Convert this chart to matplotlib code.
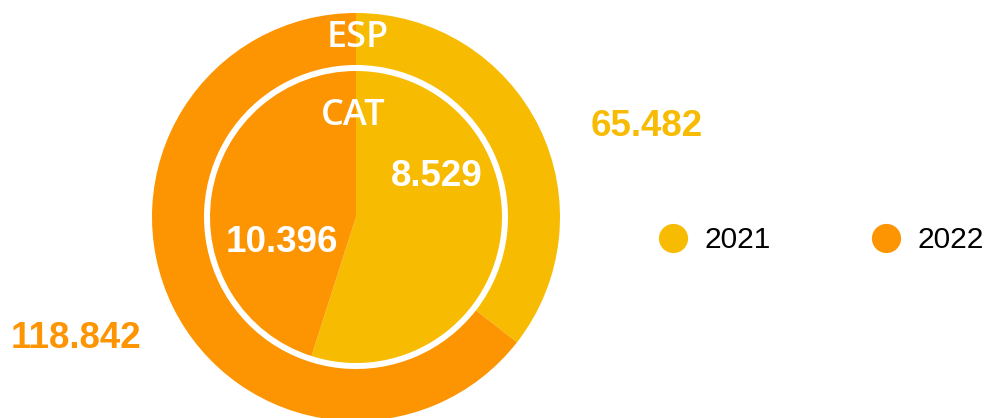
import matplotlib
matplotlib.use("Agg")
import matplotlib.pyplot as plt
from matplotlib.lines import Line2D

# ---- data ----
series = ["2021", "2022"]
colors = ["#F7BB02", "#FD9401"]
outer_name = "ESP"
outer_values = [65.482, 118.842]
outer_labels = ["65.482", "118.842"]
inner_name = "CAT"
inner_values = [10.396, 8.529]      # wedge sizes as drawn
inner_labels = ["8.529", "10.396"]  # texts as shown in the reference

W, H = 992, 418
fig = plt.figure(figsize=(W / 100, H / 100), dpi=100)
ax = fig.add_axes([0, 0, 1, 1])

cx, cy = 356, H - 217
R_out, R_gap, R_in = 204, 152, 146

ax.pie(outer_values, colors=colors, radius=R_out, center=(cx, cy),
       startangle=90, counterclock=False,
       wedgeprops=dict(width=R_out - R_gap, linewidth=0))
ax.pie(inner_values, colors=colors, radius=R_in, center=(cx, cy),
       startangle=90, counterclock=False,
       wedgeprops=dict(linewidth=0))

ax.set_xlim(0, W)
ax.set_ylim(0, H)
ax.set_aspect("equal")
ax.axis("off")

lab_font = dict(family="Liberation Sans", weight="bold", fontsize=26.5)
ax.text(437, H - 177, inner_labels[0], color="white", ha="center", va="center", **lab_font)
ax.text(282, H - 243, inner_labels[1], color="white", ha="center", va="center", **lab_font)
ax.text(647, H - 127, outer_labels[0], color=colors[0], ha="center", va="center", **lab_font)
ax.text(76, H - 338, outer_labels[1], color=colors[1], ha="center", va="center", **lab_font)

name_font = dict(family="Open Sans", weight="semibold", fontsize=26)
ax.text(358, H - 38, outer_name, color="white", ha="center", va="center", **name_font)
ax.text(353, H - 116, inner_name, color="white", ha="center", va="center", **name_font)

handles = [Line2D([], [], linestyle="none", marker="o", markersize=21,
                  markerfacecolor=c, markeredgewidth=0) for c in colors]
leg = ax.legend(handles, series, loc="center left",
                bbox_to_anchor=(658 / W, (H - 240) / H), ncol=2, frameon=False,
                prop=dict(family="Liberation Sans", size=21.5),
                handlelength=1.0, handletextpad=0.55, columnspacing=3.37,
                borderpad=0, borderaxespad=0)

fig.savefig("out.png", dpi=100, facecolor="white")
